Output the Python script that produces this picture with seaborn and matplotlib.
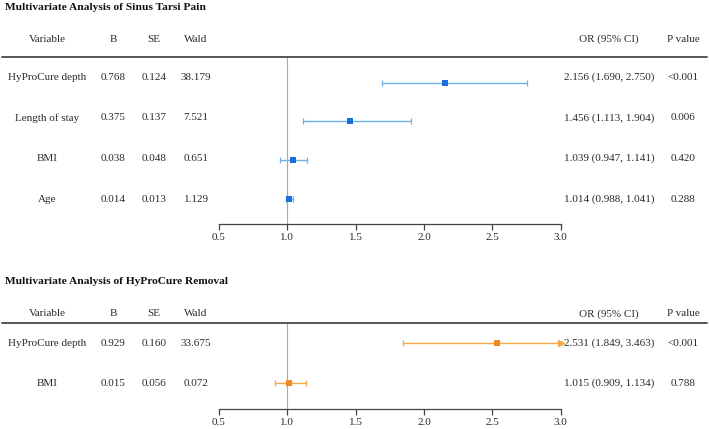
import matplotlib
matplotlib.use("Agg")
import matplotlib.pyplot as plt
from matplotlib.lines import Line2D
import numpy as np
import pandas as pd
import seaborn as sns

sns.set_theme(style="white")
plt.rcParams['font.family'] = ['Liberation Serif', 'DejaVu Serif']

# ---- data: Sinus Tarsi Pain ----
pain_vars = ["HyProCure depth", "Length of stay", "BMI", "Age"]
pain_b = ["0.768", "0.375", "0.038", "0.014"]
pain_se = ["0.124", "0.137", "0.048", "0.013"]
pain_wald = ["38.179", "7.521", "0.651", "1.129"]
pain_or = [2.156, 1.456, 1.039, 1.014]
pain_lo = [1.690, 1.113, 0.947, 0.988]
pain_hi = [2.750, 1.904, 1.141, 1.041]
pain_p = ["<0.001", "0.006", "0.420", "0.288"]

# ---- data: HyProCure Removal ----
rem_vars = ["HyProCure depth", "BMI"]
rem_b = ["0.929", "0.015"]
rem_se = ["0.160", "0.056"]
rem_wald = ["33.675", "0.072"]
rem_or = [2.531, 1.015]
rem_lo = [1.849, 0.909]
rem_hi = [3.463, 1.134]
rem_p = ["<0.001", "0.788"]

xticks = [0.5, 1.0, 1.5, 2.0, 2.5, 3.0]

W, H = 709, 429
fig = plt.figure(figsize=(W / 100, H / 100), dpi=100)
fig.patch.set_facecolor("white")

FS = 8
TEXT_COLOR = "#2a2a2a"


def fx(x):
    return x / W


def fy(y):
    return 1 - y / H


def forest_panel(title, variables, b, se, wald, orv, lo, hi, pv,
                 top, row0, row_step, ax_top, ax_bot,
                 ylim, pt_color, line_color):
    # title
    fig.text(fx(5), fy(top), title, fontsize=8.2, fontweight="bold",
             ha="left", va="center", color="#111111")
    # header
    header_y = top + 32
    cols = [("Variable", 47), ("B", 113), ("SE", 154), ("Wald", 196),
            ("OR (95% CI)", 609), ("P value", 683)]
    for lab, x in cols:
        fig.text(fx(x), fy(header_y), lab, fontsize=FS, ha="center",
                 va="center", color=TEXT_COLOR)
    fig.add_artist(Line2D([fx(2), fx(707)], [fy(ax_top), fy(ax_top)],
                          color="#555555", lw=1.4))
    # table rows
    for i, v in enumerate(variables):
        y = fy(row0 + i * row_step)
        ci = f"{orv[i]:.3f} ({lo[i]:.3f}, {hi[i]:.3f})"
        for txt, x in [(v, 47), (b[i], 113), (se[i], 154), (wald[i], 196),
                       (ci, 609), (pv[i], 683)]:
            fig.text(fx(x), y, txt, fontsize=FS, ha="center", va="center",
                     color=TEXT_COLOR)

    # forest axes
    ax = fig.add_axes([fx(219), fy(ax_bot), (560.7 - 219) / W,
                       (ax_bot - ax_top) / H])
    ax.set_facecolor("none")
    xmax = xticks[-1]
    df = pd.DataFrame({"var": variables, "or": orv, "lo": lo, "hi": hi,
                       "row": np.arange(len(variables))})
    ax.axvline(1.0, color="#aaaaaa", lw=0.8, zorder=1)
    for _, r in df.iterrows():
        right = min(r["hi"], xmax)
        ax.plot([r["lo"], right], [r["row"], r["row"]], color=line_color,
                lw=1.0, zorder=2)
        ax.plot([r["lo"]], [r["row"]], marker="|", ms=5, mew=0.9,
                color=line_color, zorder=2)
        if r["hi"] > xmax:
            ax.plot([xmax], [r["row"]], marker=">", ms=5,
                    color=line_color, mec=line_color, zorder=3,
                    clip_on=False)
        else:
            ax.plot([right], [r["row"]], marker="|", ms=5, mew=0.9,
                    color=line_color, zorder=2)
    sns.scatterplot(data=df, x="or", y="row", marker="s", s=18,
                    color=pt_color, edgecolor=pt_color, linewidth=0,
                    ax=ax, zorder=4, legend=False)
    ax.set_xlim(xticks[0], xmax)
    ax.set_ylim(*ylim)
    ax.set_xticks(xticks)
    ax.set_xticklabels([f"{t:.1f}" for t in xticks], fontsize=FS,
                       color=TEXT_COLOR)
    ax.set_yticks([])
    ax.set_xlabel("")
    ax.set_ylabel("")
    for s in ["top", "left", "right"]:
        ax.spines[s].set_visible(False)
    ax.spines["bottom"].set_color("#444444")
    ax.spines["bottom"].set_linewidth(0.9)
    ax.tick_params(axis="x", direction="out", length=4, width=0.9,
                   color="#444444", pad=2, bottom=True)
    return ax


forest_panel("Multivariate Analysis of Sinus Tarsi Pain",
             pain_vars, pain_b, pain_se, pain_wald, pain_or, pain_lo,
             pain_hi, pain_p,
             top=7, row0=77, row_step=40.7, ax_top=57, ax_bot=224.3,
             ylim=(3.65, -0.66),
             pt_color="#1a6fe0", line_color="#6fb0e8")

forest_panel("Multivariate Analysis of HyProCure Removal",
             rem_vars, rem_b, rem_se, rem_wald, rem_or, rem_lo,
             rem_hi, rem_p,
             top=282, row0=343.3, row_step=40, ax_top=323, ax_bot=409.3,
             ylim=(1.67, -0.5),
             pt_color="#f08a1c", line_color="#f5a845")

fig.savefig("out.png", dpi=100, facecolor="white")
